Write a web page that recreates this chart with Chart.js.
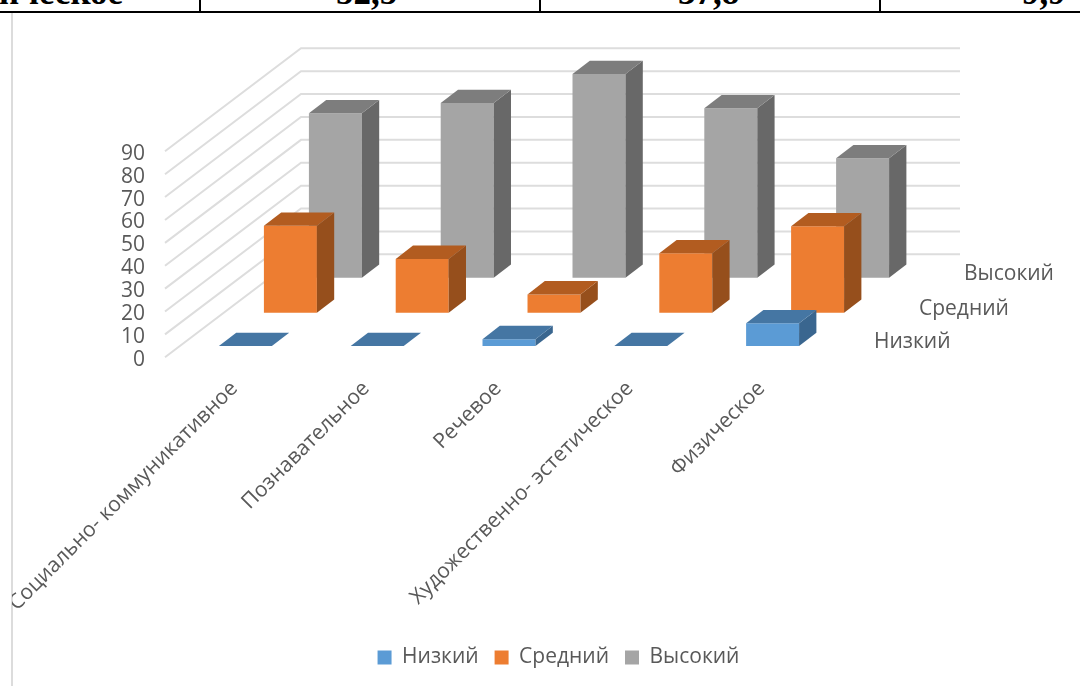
<!DOCTYPE html>
<html lang="ru">
<head>
<meta charset="utf-8">
<title>Уровни развития</title>
<script src="https://cdn.jsdelivr.net/npm/chart.js@4"></script>
<style>
    html, body { margin: 0; padding: 0; background: #fff; overflow: hidden; }
    #page { position: relative; width: 1080px; height: 686px; overflow: hidden; }
    /* piece of the table above the chart */
    .cell { position: absolute; top: -23px; font: bold 35px "Liberation Serif", serif; line-height: 32px; color: #000; white-space: nowrap; }
    .vline { position: absolute; top: 0; width: 1.5px; height: 12px; background: #000; }
    #hline { position: absolute; left: 0; top: 11px; width: 1080px; height: 2px; background: #000; }
    #frame { position: absolute; left: 11px; top: 13px; width: 2px; height: 673px; background: #dcdcdc; }
    #chart { position: absolute; left: 12px; top: 13px; }
</style>
</head>
<body>
<div id="page">
    <div class="cell" style="left:-1px">ическое</div>
    <div class="cell" style="left:336px">52,5</div>
    <div class="cell" style="left:678px">37,8</div>
    <div class="cell" style="left:1022px">9,9</div>
    <div class="vline" style="left:199px"></div>
    <div class="vline" style="left:539px"></div>
    <div class="vline" style="left:879px"></div>
    <div id="hline"></div>
    <div id="frame"></div>
    <canvas id="chart" width="1068" height="673"></canvas>
</div>
<script>
// DATA
const categories = ["Социально- коммуникативное", "Познавательное", "Речевое", "Художественно- эстетическое", "Физическое"];
const seriesNames = ["Низкий", "Средний", "Высокий"];
const lowValues = [0, 0, 3, 0, 9.9];
const midValues = [38, 23.5, 8, 26, 37.8];
const highValues = [71.8, 76.3, 89, 74, 52.2];
const yTicks = [0, 10, 20, 30, 40, 50, 60, 70, 80, 90];

// COLOURS (front, top, side)
const frontColors = ["#5b9bd5", "#ed7d31", "#a5a5a5"];
const topColors = ["#4576a3", "#b25c20", "#7d7d7d"];
const sideColors = ["#3a668f", "#964f1c", "#686868"];

// 3D GEOMETRY
const FLOOR_DX = 136, FLOOR_DY = -103;
const ROW_DX = [14.5, 59.5, 104.5], ROW_DY = [-11.3, -44.6, -79.6];
const BAR_DX = 17.3, BAR_DY = -13.3;
const FONT = '"Open Sans", sans-serif';
const TEXT = "#595959";
const BOTTOM_PAD = 8;

function face(ctx, color, pts) {
    ctx.fillStyle = color;
    ctx.beginPath();
    pts.forEach((p, i) => i ? ctx.lineTo(p[0], p[1]) : ctx.moveTo(p[0], p[1]));
    ctx.closePath();
    ctx.fill();
}

const depth3d = {
    id: "depth3d",
    afterLayout(chart) {
        // legend is centred on the whole picture, not on the plot
        chart.legend.left = 0;
        chart.legend.right = 1093;
    },
    beforeDatasetsDraw(chart) {
        const { ctx, chartArea, scales } = chart;
        ctx.save();
        ctx.strokeStyle = "#dddddd";
        ctx.lineWidth = 2;
        scales.y.ticks.forEach(t => {
            const y = scales.y.getPixelForValue(t.value);
            ctx.beginPath();
            ctx.moveTo(chartArea.left, y);
            ctx.lineTo(chartArea.left + FLOOR_DX, y + FLOOR_DY);
            ctx.lineTo(chartArea.right + FLOOR_DX, y + FLOOR_DY);
            ctx.stroke();
        });
        // names of the depth axis
        ctx.fillStyle = TEXT;
        ctx.font = "21px " + FONT;
        ctx.textBaseline = "middle";
        seriesNames.forEach((name, i) => {
            ctx.fillText(name, chartArea.right + ROW_DX[i] + 35.5, chartArea.bottom + ROW_DY[i] - 4);
        });
        ctx.restore();
    },
    beforeDatasetDraw(chart, args) {
        chart.ctx.save();
        chart.ctx.translate(ROW_DX[args.index], ROW_DY[args.index]);
    },
    afterDatasetDraw(chart, args) {
        const ctx = chart.ctx;
        args.meta.data.forEach(bar => {
            const { x, y, base, width } = bar.getProps(["x", "y", "base", "width"]);
            const l = x - width / 2, r = x + width / 2;
            face(ctx, sideColors[args.index], [[r, y], [r + BAR_DX, y + BAR_DY], [r + BAR_DX, base + BAR_DY], [r, base]]);
            face(ctx, topColors[args.index], [[l, y], [l + BAR_DX, y + BAR_DY], [r + BAR_DX, y + BAR_DY], [r, y]]);
        });
        ctx.restore();
    }
};

const chart = new Chart(document.getElementById("chart"), {
    type: "bar",
    data: {
        labels: categories,
        datasets: [lowValues, midValues, highValues].map((values, i) => ({
            label: seriesNames[i],
            data: values,
            backgroundColor: frontColors[i],
            borderWidth: 0,
            clip: false,
            grouped: false,
            categoryPercentage: 0.402,
            barPercentage: 1
        }))
    },
    plugins: [depth3d],
    options: {
        responsive: false,
        animation: false,
        layout: { padding: { top: 138.3, right: 256, bottom: BOTTOM_PAD, left: 0 } },
        plugins: {
            tooltip: { enabled: false },
            legend: {
                position: "bottom",
                labels: {
                    boxWidth: 14,
                    boxHeight: 14,
                    padding: 16,
                    color: TEXT,
                    font: { family: FONT, size: 21 }
                }
            }
        },
        scales: {
            x: {
                grid: { display: false },
                border: { display: false },
                ticks: {
                    color: TEXT,
                    font: { family: FONT, size: 21 },
                    minRotation: 45,
                    maxRotation: 45,
                    autoSkip: false,
                    padding: 11,
                    labelOffset: 3.5
                },
                afterFit(scale) {
                    scale.height = 673 - 344.3 - scale.chart.legend.height - BOTTOM_PAD;
                    scale.paddingLeft = 0;
                    scale.paddingRight = 0;
                }
            },
            y: {
                min: 0,
                max: 90,
                grid: { display: false },
                border: { display: false },
                afterBuildTicks(scale) {
                    scale.ticks = yTicks.map(v => ({ value: v }));
                },
                ticks: {
                    color: TEXT,
                    font: { family: FONT, size: 21 },
                    autoSkip: false,
                    padding: 12,
                    labelOffset: 2.5
                },
                afterFit(scale) {
                    scale.width = 153;
                    scale.paddingTop = 0;
                    scale.paddingBottom = 0;
                }
            }
        }
    }
});
</script>
</body>
</html>
